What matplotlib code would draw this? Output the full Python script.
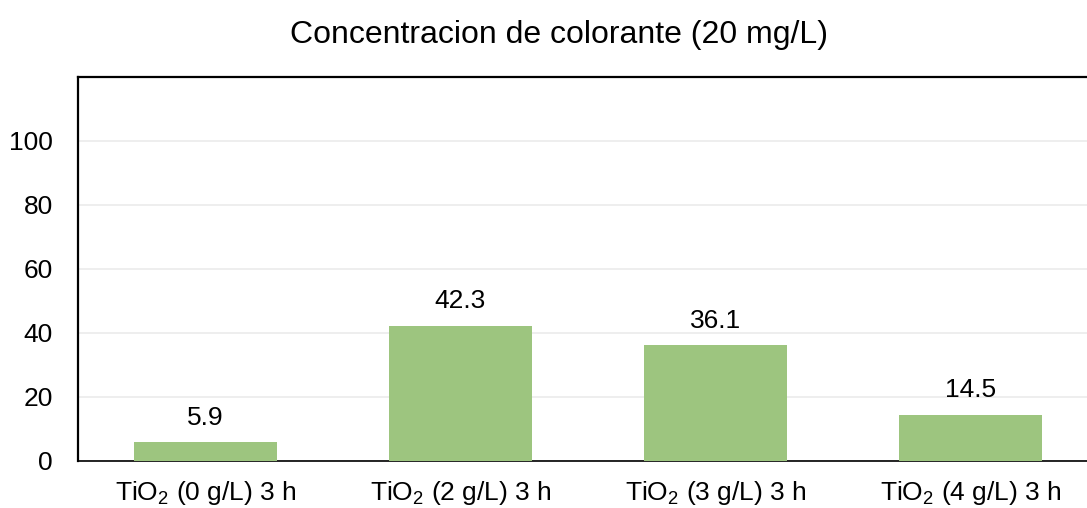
import matplotlib
matplotlib.use('Agg')
import matplotlib.pyplot as plt

categorias = ['TiO$_2$ (0 g/L) 3 h', 'TiO$_2$ (2 g/L) 3 h', 'TiO$_2$ (3 g/L) 3 h', 'TiO$_2$ (4 g/L) 3 h']
valores = [5.9, 42.3, 36.1, 14.5]
yticks = [0, 20, 40, 60, 80, 100]

plt.rcParams['font.family'] = ['Liberation Sans', 'DejaVu Sans']
plt.rcParams['mathtext.fontset'] = 'custom'
plt.rcParams['mathtext.rm'] = 'Liberation Sans'
plt.rcParams['mathtext.it'] = 'Liberation Sans'

fig = plt.figure(figsize=(10.87, 5.08), dpi=100)
ax = fig.add_axes([78 / 1087, 47 / 508, 1.01 - 78 / 1087, (461 - 77) / 508])

x = range(len(categorias))
ax.bar(x, valores, width=0.56, color='#9DC57F', zorder=3)
for i, v in enumerate(valores):
    ax.annotate(f'{v:.1f}', (i, v), xytext=(0, 9), textcoords='offset points',
                ha='center', va='bottom', fontsize=19)

ax.set_xlim(-0.5, 3.5)
ax.set_ylim(0, 120)
ax.set_yticks(yticks)
ax.set_xticks(list(x))
ax.set_xticklabels(categorias, fontsize=19)
ax.tick_params(axis='y', labelsize=19, length=0, pad=18)
ax.tick_params(axis='x', length=0, pad=13)
ax.grid(axis='y', color='#EBEBEB', linewidth=1.2, zorder=0)

for s in ['left', 'top', 'right']:
    ax.spines[s].set_linewidth(1.6)
ax.spines['bottom'].set_linewidth(1.2)

fig.suptitle('Concentracion de colorante (20 mg/L)', fontsize=23, x=0.514, y=0.96)

plt.savefig('out.png', dpi=100)
